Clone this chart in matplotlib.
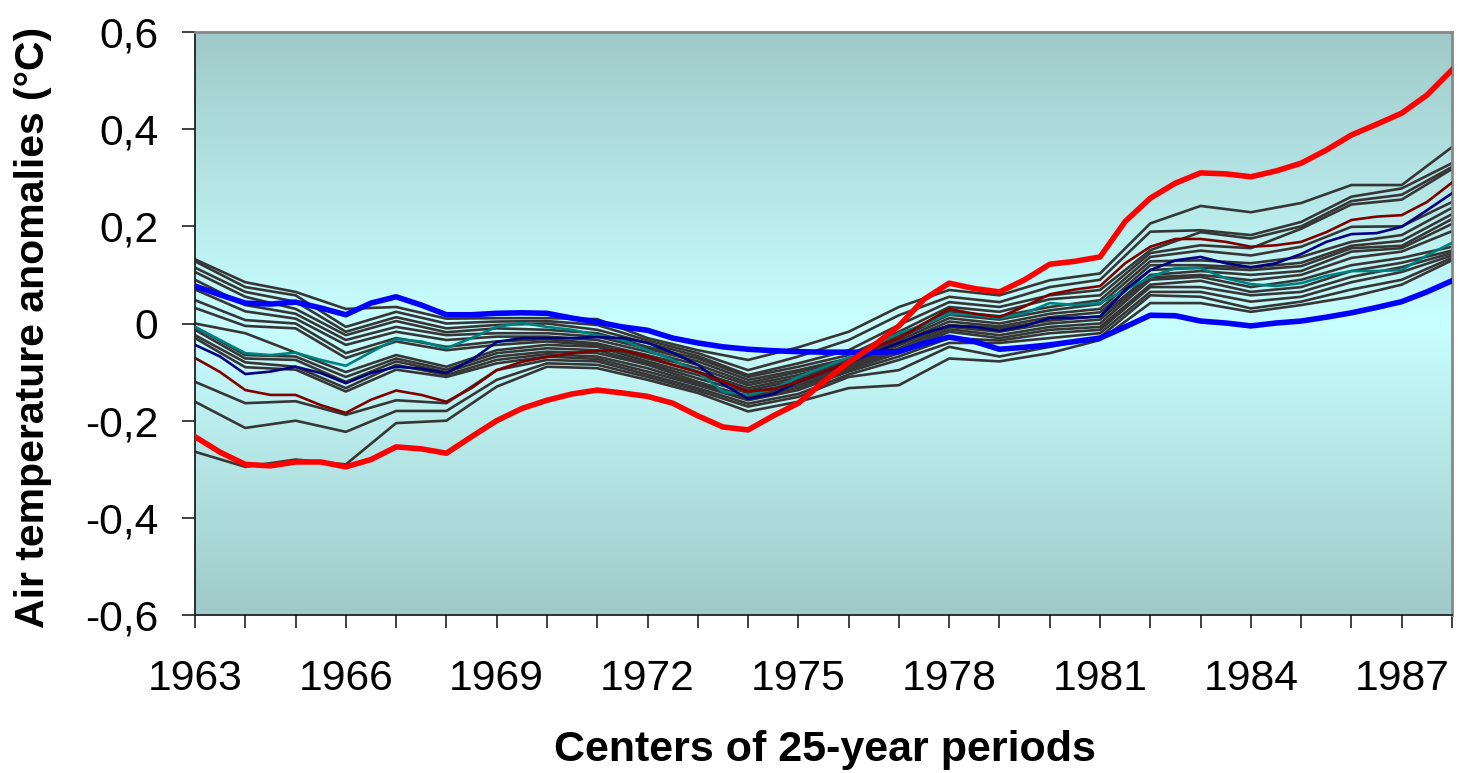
import numpy as np
import matplotlib
matplotlib.use("Agg")
import matplotlib.pyplot as plt

plt.rcParams['font.family'] = ['Liberation Sans', 'DejaVu Sans']

# ---------------- data ----------------
years = list(range(1963, 1989))
half_years = [1963 + 0.5 * i for i in range(51)]

xtick_labels = [str(y) if (y - 1963) % 3 == 0 else '' for y in years]
ytick_values = [-0.6, -0.4, -0.2, 0.0, 0.2, 0.4, 0.6]
ytick_labels = ['-0,6', '-0,4', '-0,2', '0', '0,2', '0,4', '0,6']

# grey ensemble members (yearly values)
g01 = [0.132, 0.085, 0.065, 0.03, 0.034, 0.01, 0.011, 0.011, 0.009, -0.03, -0.055, -0.075, -0.049, -0.017, 0.034, 0.069, 0.058, 0.089, 0.103, 0.206, 0.242, 0.229, 0.248, 0.285, 0.285, 0.363]
g02 = [0.128, 0.075, 0.058, -0.007, 0.024, 0.0, 0.004, 0.005, -0.003, -0.035, -0.061, -0.096, -0.068, -0.034, 0.017, 0.055, 0.044, 0.075, 0.09, 0.189, 0.192, 0.182, 0.209, 0.261, 0.278, 0.33]
g03 = [0.115, 0.065, 0.045, -0.017, 0.013, -0.01, -0.003, 0.0, -0.013, -0.04, -0.067, -0.106, -0.082, -0.055, -0.003, 0.044, 0.034, 0.058, 0.069, 0.151, 0.188, 0.175, 0.2, 0.252, 0.265, 0.322]
g04 = [0.106, 0.055, 0.03, -0.024, 0.005, -0.018, -0.01, -0.013, -0.02, -0.048, -0.072, -0.11, -0.089, -0.065, -0.017, 0.034, 0.024, 0.05, 0.058, 0.145, 0.161, 0.155, 0.195, 0.245, 0.255, 0.318]
g05 = [0.09, 0.038, 0.02, -0.034, -0.007, -0.024, -0.02, -0.02, -0.027, -0.052, -0.078, -0.116, -0.096, -0.072, -0.025, 0.025, 0.015, 0.034, 0.048, 0.137, 0.15, 0.14, 0.158, 0.199, 0.2, 0.25]
g06 = [0.07, 0.025, 0.01, -0.044, -0.017, -0.034, -0.027, -0.027, -0.034, -0.058, -0.085, -0.122, -0.1, -0.075, -0.03, 0.018, 0.008, 0.027, 0.04, 0.128, 0.13, 0.124, 0.137, 0.168, 0.182, 0.238]
g07 = [0.048, 0.007, 0.0, -0.061, -0.03, -0.048, -0.037, -0.032, -0.041, -0.065, -0.092, -0.127, -0.106, -0.078, -0.035, 0.011, 0.0, 0.02, 0.03, 0.12, 0.12, 0.115, 0.125, 0.16, 0.17, 0.225]
g08 = [0.032, -0.005, -0.01, -0.071, -0.037, -0.055, -0.044, -0.037, -0.045, -0.072, -0.099, -0.133, -0.111, -0.082, -0.04, 0.004, -0.006, 0.013, 0.023, 0.11, 0.115, 0.11, 0.118, 0.155, 0.16, 0.215]
g09 = [0.0, -0.02, -0.06, -0.10, -0.065, -0.089, -0.055, -0.044, -0.048, -0.078, -0.106, -0.138, -0.116, -0.085, -0.045, -0.003, -0.01, 0.006, 0.015, 0.1, 0.108, 0.1, 0.108, 0.148, 0.155, 0.205]
g10 = [-0.007, -0.065, -0.068, -0.11, -0.072, -0.095, -0.061, -0.051, -0.055, -0.082, -0.113, -0.143, -0.122, -0.088, -0.051, -0.007, -0.017, 0.0, 0.008, 0.095, 0.1, 0.089, 0.1, 0.135, 0.148, 0.19]
g11 = [-0.013, -0.072, -0.075, -0.12, -0.078, -0.1, -0.068, -0.058, -0.061, -0.085, -0.12, -0.151, -0.127, -0.092, -0.056, -0.012, -0.024, -0.007, 0.0, 0.09, 0.096, 0.075, 0.09, 0.12, 0.135, 0.158]
g12 = [-0.024, -0.08, -0.089, -0.133, -0.085, -0.106, -0.075, -0.063, -0.068, -0.092, -0.124, -0.155, -0.132, -0.095, -0.061, -0.017, -0.03, -0.013, -0.007, 0.08, 0.088, 0.065, 0.075, 0.108, 0.125, 0.15]
g13 = [-0.03, -0.09, -0.095, -0.14, -0.095, -0.11, -0.082, -0.068, -0.073, -0.099, -0.127, -0.158, -0.137, -0.099, -0.068, -0.03, -0.035, -0.02, -0.013, 0.075, 0.075, 0.058, 0.065, 0.096, 0.116, 0.145]
g14 = [-0.12, -0.164, -0.16, -0.188, -0.158, -0.164, -0.096, -0.075, -0.078, -0.105, -0.133, -0.165, -0.145, -0.105, -0.075, -0.04, -0.04, -0.03, -0.02, 0.065, 0.065, 0.045, 0.055, 0.085, 0.106, 0.14]
g15 = [-0.161, -0.215, -0.20, -0.223, -0.18, -0.18, -0.116, -0.082, -0.085, -0.11, -0.138, -0.171, -0.151, -0.11, -0.096, -0.048, -0.068, -0.048, -0.028, 0.058, 0.055, 0.031, 0.045, 0.07, 0.09, 0.135]
g16 = [-0.264, -0.295, -0.28, -0.29, -0.205, -0.20, -0.13, -0.089, -0.092, -0.116, -0.143, -0.181, -0.161, -0.133, -0.127, -0.072, -0.078, -0.061, -0.034, 0.042, 0.042, 0.024, 0.038, 0.055, 0.08, 0.13]
grey_series = [g01, g02, g03, g04, g05, g06, g07, g08, g09, g10, g11, g12, g13, g14, g15, g16]

# highlighted members (half-yearly values)
teal_series = [-0.007, -0.034, -0.061, -0.065, -0.06, -0.075, -0.087, -0.059, -0.032, -0.037, -0.051, -0.03, -0.007, 0.001, -0.007, -0.013, -0.024, -0.034, -0.055, -0.075, -0.10, -0.14, -0.147, -0.135, -0.11, -0.09, -0.07, -0.045, -0.02, -0.003, 0.02, 0.017, 0.011, 0.021, 0.042, 0.038, 0.042, 0.069, 0.096, 0.114, 0.114, 0.093, 0.081, 0.077, 0.083, 0.098, 0.108, 0.108, 0.11, 0.14, 0.166]
navy_series = [-0.044, -0.068, -0.104, -0.099, -0.089, -0.102, -0.123, -0.102, -0.089, -0.093, -0.102, -0.075, -0.038, -0.03, -0.03, -0.03, -0.028, -0.03, -0.04, -0.06, -0.085, -0.125, -0.155, -0.145, -0.12, -0.10, -0.08, -0.06, -0.04, -0.02, -0.005, -0.007, -0.015, -0.005, 0.011, 0.012, 0.014, 0.069, 0.11, 0.13, 0.137, 0.124, 0.116, 0.124, 0.143, 0.168, 0.184, 0.186, 0.199, 0.233, 0.268]
darkred_series = [-0.071, -0.10, -0.137, -0.147, -0.147, -0.168, -0.184, -0.157, -0.138, -0.147, -0.161, -0.133, -0.096, -0.079, -0.069, -0.061, -0.056, -0.055, -0.068, -0.085, -0.10, -0.12, -0.14, -0.135, -0.12, -0.10, -0.08, -0.05, -0.03, 0.0, 0.03, 0.02, 0.013, 0.035, 0.06, 0.07, 0.077, 0.124, 0.158, 0.174, 0.174, 0.168, 0.158, 0.161, 0.168, 0.188, 0.213, 0.22, 0.223, 0.25, 0.29]
blue_series = [0.077, 0.059, 0.042, 0.04, 0.044, 0.032, 0.018, 0.042, 0.055, 0.038, 0.018, 0.018, 0.021, 0.022, 0.021, 0.011, 0.003, -0.007, -0.014, -0.03, -0.04, -0.048, -0.053, -0.056, -0.058, -0.059, -0.059, -0.059, -0.058, -0.041, -0.028, -0.037, -0.053, -0.049, -0.044, -0.037, -0.03, -0.007, 0.017, 0.016, 0.005, 0.001, -0.005, 0.001, 0.005, 0.013, 0.022, 0.033, 0.045, 0.065, 0.088]
red_series = [-0.233, -0.265, -0.29, -0.293, -0.285, -0.285, -0.295, -0.28, -0.254, -0.258, -0.267, -0.233, -0.20, -0.175, -0.158, -0.145, -0.137, -0.143, -0.15, -0.164, -0.19, -0.213, -0.219, -0.19, -0.164, -0.12, -0.08, -0.045, -0.005, 0.05, 0.083, 0.072, 0.065, 0.09, 0.122, 0.128, 0.137, 0.21, 0.258, 0.289, 0.31, 0.308, 0.302, 0.314, 0.33, 0.357, 0.388, 0.41, 0.433, 0.47, 0.522]

# ---------------- figure ----------------
W, H = 1458, 773
fig = plt.figure(figsize=(W / 100, H / 100), dpi=100)
fig.patch.set_facecolor('white')
ax = fig.add_axes([195 / W, 1 - 615 / H, (1452 - 195) / W, (615 - 32) / H])

# background gradient (edge -> centre -> edge)
edge = np.array([160, 201, 201]) / 255.0
centre = np.array([200, 255, 255]) / 255.0
n = 400
t = np.abs(np.linspace(-1, 1, n))[:, None]
grad = centre[None, :] * (1 - t) + edge[None, :] * t
grad = grad[:, None, :]
ax.imshow(grad, extent=[years[0], years[-1], -0.6, 0.6], aspect='auto',
          origin='lower', zorder=0, interpolation='bilinear')

for s in grey_series:
    ax.plot(years, s, color='#363636', lw=1.9, zorder=2, solid_joinstyle='round')
ax.plot(half_years, teal_series, color='#008080', lw=1.9, zorder=3)
ax.plot(half_years, navy_series, color='#000080', lw=1.9, zorder=3)
ax.plot(half_years, darkred_series, color='#800000', lw=1.9, zorder=3)
ax.plot(half_years, blue_series, color='#0000ff', lw=4.0, zorder=4, solid_joinstyle='round')
ax.plot(half_years, red_series, color='#ff0000', lw=4.0, zorder=5, solid_joinstyle='round')

ax.set_xlim(years[0], years[-1])
ax.set_ylim(-0.6, 0.6)

ax.set_xticks(years)
ax.set_xticklabels(xtick_labels)
ax.set_yticks(ytick_values)
ax.set_yticklabels(ytick_labels)

ax.tick_params(axis='both', direction='out', length=9.5, width=1.2, color='#202020',
               labelsize=30.7, labelcolor='black')
ax.tick_params(axis='x', pad=22)
ax.tick_params(axis='y', pad=17)

for side in ['left', 'bottom']:
    ax.spines[side].set_color('#202020')
    ax.spines[side].set_linewidth(1.3)
for side in ['top', 'right']:
    ax.spines[side].set_color('#888888')
    ax.spines[side].set_linewidth(2.0)

fig.text(825 / W, 1 - 750 / H, 'Centers of 25-year periods', ha='center', va='center',
         fontsize=31, fontweight='bold')
fig.text(33 / W, 1 - 327 / H, 'Air temperature anomalies (°C)', ha='center', va='center',
         rotation=90, fontsize=29.5, fontweight='bold')

fig.savefig('out.png', dpi=100)
